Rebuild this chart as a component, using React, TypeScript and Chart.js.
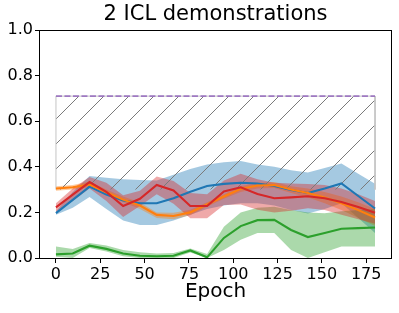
import React, { useEffect, useRef } from "react";
import { Chart, registerables } from "chart.js";

Chart.register(...registerables);

// ---------- data ----------
const EPOCHS = [0, 9.47, 18.95, 28.42, 37.89, 47.37, 56.84, 66.32, 75.79, 85.26, 94.74, 104.21, 113.68, 123.16, 132.63, 142.11, 151.58, 161.05, 170.53, 180];
const X_TICKS = [0, 25, 50, 75, 100, 125, 150, 175];
const Y_TICKS = [0, 0.2, 0.4, 0.6, 0.8, 1.0];

const BLUE_MEAN = [0.197, 0.255, 0.313, 0.278, 0.252, 0.24, 0.24, 0.262, 0.291, 0.316, 0.325, 0.33, 0.327, 0.316, 0.298, 0.285, 0.305, 0.327, 0.272, 0.217];
const BLUE_UPPER = [0.205, 0.29, 0.36, 0.352, 0.345, 0.342, 0.34, 0.365, 0.39, 0.41, 0.42, 0.425, 0.41, 0.4, 0.385, 0.375, 0.395, 0.415, 0.37, 0.325];
const BLUE_LOWER = [0.19, 0.22, 0.267, 0.215, 0.165, 0.145, 0.145, 0.165, 0.19, 0.215, 0.23, 0.24, 0.24, 0.23, 0.21, 0.195, 0.215, 0.24, 0.175, 0.11];

const ORANGE_MEAN = [0.305, 0.31, 0.322, 0.288, 0.256, 0.23, 0.189, 0.184, 0.2, 0.235, 0.27, 0.303, 0.318, 0.32, 0.3, 0.285, 0.265, 0.24, 0.21, 0.178];
const ORANGE_UPPER = [0.315, 0.32, 0.335, 0.3, 0.27, 0.245, 0.2, 0.198, 0.212, 0.245, 0.28, 0.315, 0.33, 0.333, 0.315, 0.305, 0.29, 0.27, 0.245, 0.215];
const ORANGE_LOWER = [0.295, 0.3, 0.31, 0.28, 0.245, 0.215, 0.175, 0.17, 0.188, 0.225, 0.26, 0.29, 0.305, 0.307, 0.285, 0.265, 0.24, 0.21, 0.175, 0.14];

const GREEN_MEAN = [0.016, 0.02, 0.054, 0.04, 0.02, 0.01, 0.008, 0.01, 0.033, 0.003, 0.088, 0.14, 0.166, 0.167, 0.123, 0.092, 0.11, 0.128, 0.131, 0.134];
const GREEN_UPPER = [0.05, 0.04, 0.066, 0.055, 0.035, 0.025, 0.02, 0.022, 0.042, 0.018, 0.137, 0.2, 0.22, 0.225, 0.21, 0.2, 0.196, 0.205, 0.21, 0.215];
const GREEN_LOWER = [0.005, 0.0, 0.044, 0.028, 0.008, 0.0, 0.0, 0.0, 0.024, 0.0, 0.035, 0.08, 0.11, 0.11, 0.035, 0.0, 0.025, 0.05, 0.05, 0.05];

const RED_MEAN = [0.222, 0.278, 0.333, 0.29, 0.228, 0.26, 0.32, 0.296, 0.228, 0.228, 0.292, 0.31, 0.281, 0.262, 0.266, 0.271, 0.262, 0.246, 0.224, 0.198];
const RED_UPPER = [0.24, 0.305, 0.355, 0.33, 0.275, 0.295, 0.357, 0.338, 0.285, 0.28, 0.34, 0.37, 0.345, 0.33, 0.327, 0.325, 0.32, 0.305, 0.28, 0.25];
const RED_LOWER = [0.203, 0.25, 0.305, 0.25, 0.18, 0.228, 0.28, 0.238, 0.174, 0.174, 0.232, 0.235, 0.212, 0.2, 0.207, 0.218, 0.21, 0.19, 0.17, 0.15];

const HATCH_X = [0, 180];
const HATCH_LOW = 0.3;
const HATCH_HIGH = 0.71;

const TITLE = "2 ICL demonstrations";
const X_LABEL = "Epoch";

// ---------- styling ----------
const FONT = "'DejaVu Sans', 'Liberation Sans', sans-serif";

const SERIES = [
  { mean: BLUE_MEAN, upper: BLUE_UPPER, lower: BLUE_LOWER, line: "#1f77b4", band: "rgba(31,119,180,0.4)" },
  { mean: ORANGE_MEAN, upper: ORANGE_UPPER, lower: ORANGE_LOWER, line: "#ff7f0e", band: "rgba(255,127,14,0.4)" },
  { mean: GREEN_MEAN, upper: GREEN_UPPER, lower: GREEN_LOWER, line: "#2ca02c", band: "rgba(44,160,44,0.4)" },
  { mean: RED_MEAN, upper: RED_UPPER, lower: RED_LOWER, line: "#d62728", band: "rgba(214,39,40,0.4)" },
];

const pts = (ys: number[]) => EPOCHS.map((x, i) => ({ x, y: ys[i] }));

function makeHatch(): CanvasPattern | string {
  const pc = document.createElement("canvas");
  pc.width = 25;
  pc.height = 25;
  const g = pc.getContext("2d");
  if (!g) return "rgba(0,0,0,0)";
  g.strokeStyle = "#7a7a7a";
  g.lineWidth = 1;
  g.beginPath();
  for (const c of [0, 25, 50]) {
    g.moveTo(c + 2, -2);
    g.lineTo(-2, c + 2);
  }
  g.stroke();
  return g.createPattern(pc, "repeat") || "rgba(0,0,0,0)";
}

const framePlugin = {
  id: "frame",
  afterDatasetsDraw(chart: any) {
    const { ctx, chartArea } = chart;
    ctx.save();
    ctx.strokeStyle = "#000";
    ctx.lineWidth = 1;
    ctx.strokeRect(
      Math.round(chartArea.left) - 0.5,
      Math.round(chartArea.top) + 0.5,
      Math.round(chartArea.right - chartArea.left) + 1,
      Math.round(chartArea.bottom - chartArea.top)
    );
    ctx.restore();
  },
};

export default function App() {
  const ref = useRef<HTMLCanvasElement>(null);

  useEffect(() => {
    const canvas = ref.current;
    if (!canvas) return;
    const hatch = makeHatch();
    const datasets: any[] = [];

    // bands (beneath everything)
    SERIES.forEach((s, k) => {
      const lowIdx = datasets.length;
      datasets.push({
        data: pts(s.lower),
        borderColor: "rgba(0,0,0,0)",
        borderWidth: 0,
        pointRadius: 0,
        fill: false,
        order: 40 - k * 2,
      });
      datasets.push({
        data: pts(s.upper),
        borderColor: "rgba(0,0,0,0)",
        borderWidth: 0,
        pointRadius: 0,
        backgroundColor: s.band,
        fill: lowIdx,
        order: 39 - k * 2,
      });
    });

    // hatched region
    datasets.push({
      data: [
        { x: HATCH_X[0], y: HATCH_LOW },
        { x: HATCH_X[0], y: HATCH_HIGH },
        { x: HATCH_X[1], y: HATCH_HIGH },
        { x: HATCH_X[1], y: HATCH_LOW },
      ],
      borderColor: "#c4c4c4",
      borderWidth: 1,
      pointRadius: 0,
      backgroundColor: hatch,
      fill: { value: HATCH_LOW },
      order: 20,
    });

    // mean lines
    SERIES.forEach((s, k) => {
      datasets.push({
        data: pts(s.mean),
        borderColor: s.line,
        borderWidth: 2.1,
        pointRadius: 0,
        fill: false,
        order: 10 - k,
      });
    });

    // purple dashed top line
    datasets.push({
      data: [
        { x: HATCH_X[0], y: HATCH_HIGH },
        { x: HATCH_X[1], y: HATCH_HIGH },
      ],
      borderColor: "rgba(148,103,189,0.85)",
      borderWidth: 1.6,
      borderDash: [6, 2.5],
      pointRadius: 0,
      fill: false,
      order: 1,
    });

    const chart = new Chart(canvas, {
      type: "line",
      data: { datasets },
      options: {
        animation: false,
        responsive: false,
        devicePixelRatio: 1,
        events: [],
        elements: { line: { tension: 0 } },
        layout: { padding: { left: 0, right: 8, top: 0, bottom: 0 } },
        plugins: {
          legend: { display: false },
          tooltip: { enabled: false },
          title: {
            display: true,
            fullSize: false,
            text: TITLE,
            color: "#000",
            font: { family: FONT, size: 21, weight: "normal", lineHeight: 1.15 },
            padding: { top: 2, bottom: 3.85 },
          },
        },
        scales: {
          x: {
            type: "linear",
            min: -9,
            max: 189,
            afterBuildTicks: (s: any) => {
              s.ticks = X_TICKS.map((v) => ({ value: v }));
            },
            afterFit: (s: any) => {
              s.height = 55;
            },
            ticks: {
              color: "#000",
              font: { family: FONT, size: 16 },
              padding: 2,
              maxRotation: 0,
              autoSkip: false,
              callback: (v: any) => String(v),
            },
            grid: {
              drawOnChartArea: false,
              drawTicks: true,
              tickLength: 5,
              color: "#000",
              tickColor: "#000",
            },
            border: { display: false },
            title: {
              display: true,
              text: X_LABEL,
              color: "#000",
              font: { family: FONT, size: 20 },
              padding: { top: 0, bottom: 9 },
            },
          },
          y: {
            type: "linear",
            min: 0,
            max: 1,
            afterBuildTicks: (s: any) => {
              s.ticks = Y_TICKS.map((v) => ({ value: v }));
            },
            afterFit: (s: any) => {
              s.width = 40;
            },
            ticks: {
              color: "#000",
              font: { family: FONT, size: 16 },
              padding: 2,
              callback: (v: any) => Number(v).toFixed(1),
            },
            grid: {
              drawOnChartArea: false,
              drawTicks: true,
              tickLength: 5,
              color: "#000",
              tickColor: "#000",
            },
            border: { display: false },
          },
        },
      },
      plugins: [framePlugin],
    } as any);

    return () => chart.destroy();
  }, []);

  return (
    <div style={{ position: "fixed", left: 0, top: 0, width: 399, height: 313, background: "#fff" }}>
      <canvas ref={ref} width={399} height={313} style={{ width: 399, height: 313, display: "block" }} />
    </div>
  );
}
